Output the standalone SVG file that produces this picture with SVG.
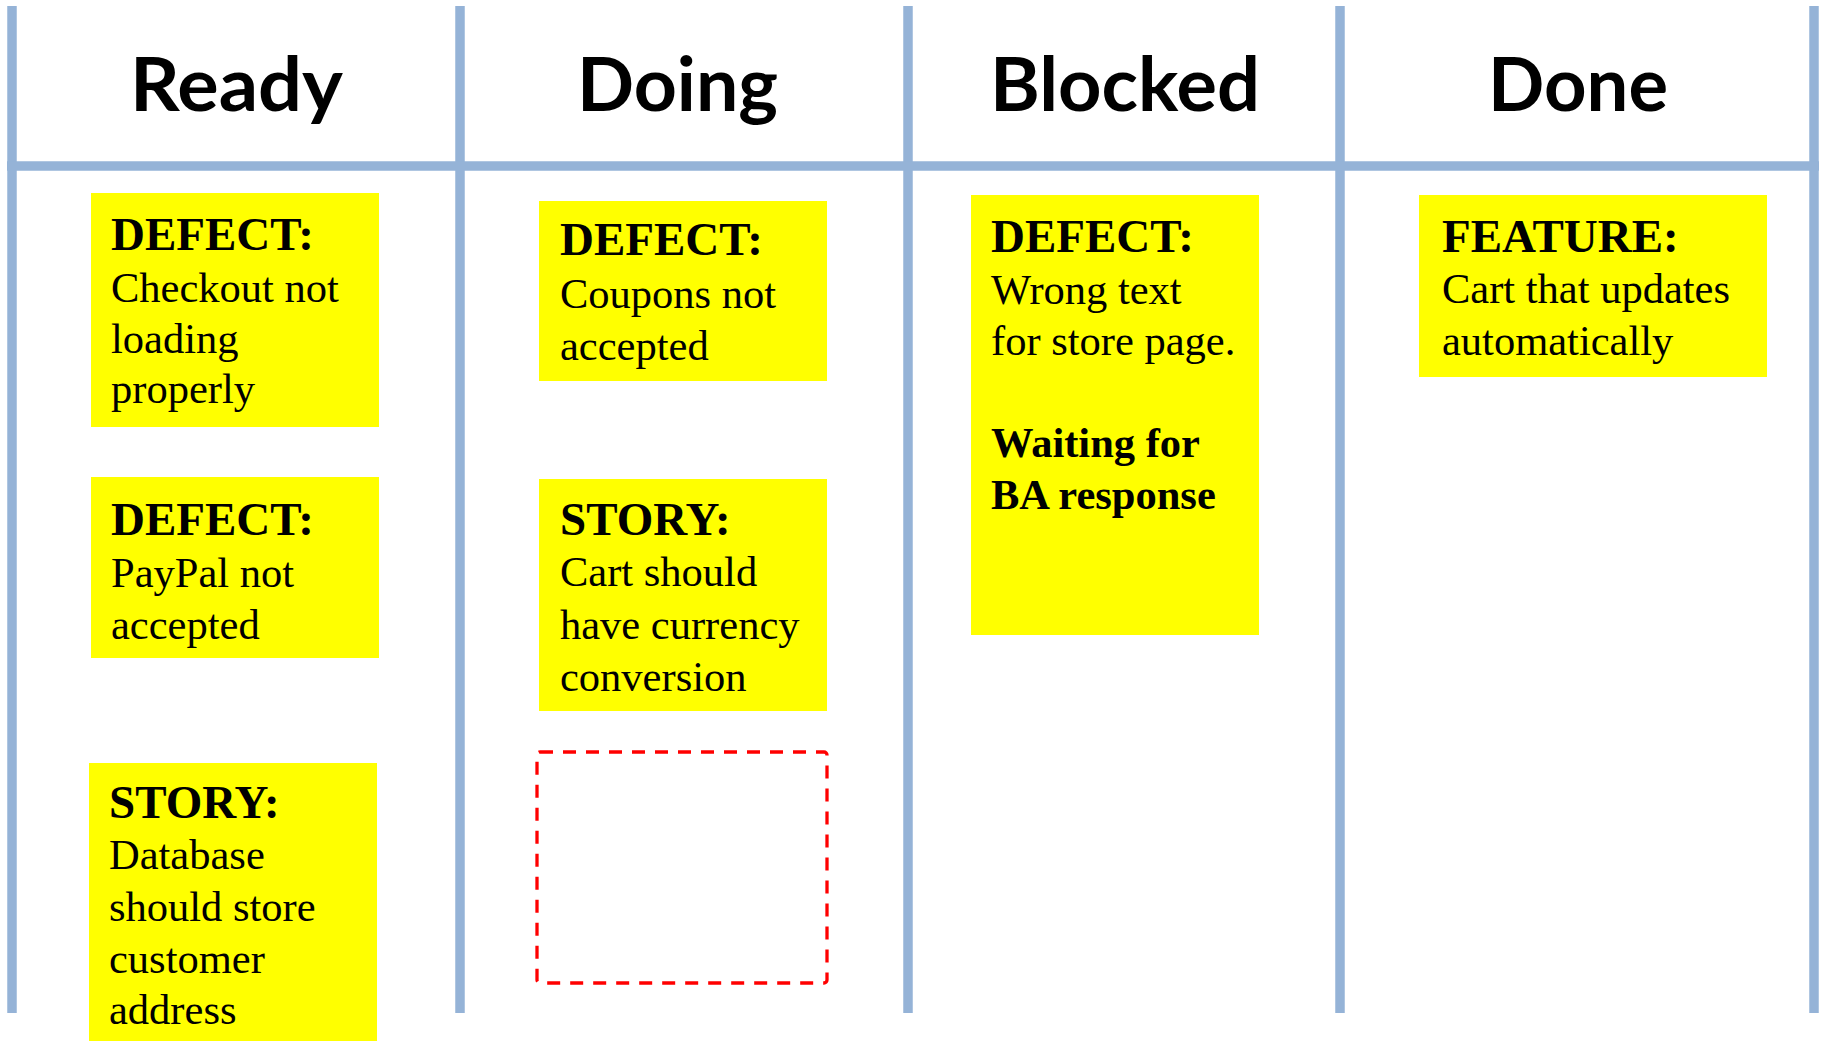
<svg xmlns="http://www.w3.org/2000/svg" width="1823" height="1041" viewBox="0 0 1823 1041">
<style>
.bg{fill:#ffffff}
.grid{stroke:#95B3D7;stroke-width:9.5;fill:none}
.hdr{font-family:Lato,"Open Sans","Liberation Sans",sans-serif;font-weight:700;font-size:74px;fill:#000}
.card{fill:#FFFF00}
.lbl{font-family:"Liberation Serif","Times New Roman",serif;font-weight:700;font-size:47px;fill:#000}
.txt{font-family:"Liberation Serif","Times New Roman",serif;font-size:42.5px;fill:#000}
.txtb{font-family:"Liberation Serif","Times New Roman",serif;font-weight:700;font-size:42.5px;fill:#000}
.slot{fill:none;stroke:#FF0000;stroke-width:3.3;stroke-dasharray:13 10}
</style>
<rect class="bg" x="0" y="0" width="1823" height="1041"/>
<g id="board">
  <line class="grid" x1="12" y1="6" x2="12" y2="1013"/>
  <line class="grid" x1="460" y1="6" x2="460" y2="1013"/>
  <line class="grid" x1="908" y1="6" x2="908" y2="1013"/>
  <line class="grid" x1="1340" y1="6" x2="1340" y2="1013"/>
  <line class="grid" x1="1814" y1="6" x2="1814" y2="1013"/>
  <line class="grid" x1="7" y1="166" x2="1819" y2="166"/>
</g>
<g id="headers">
  <text class="hdr" x="130" y="111" textLength="213" lengthAdjust="spacingAndGlyphs">Ready</text>
  <text class="hdr" x="577" y="111" textLength="201" lengthAdjust="spacingAndGlyphs">Doing</text>
  <text class="hdr" x="990" y="111" textLength="270" lengthAdjust="spacingAndGlyphs">Blocked</text>
  <text class="hdr" x="1488" y="111" textLength="180" lengthAdjust="spacingAndGlyphs">Done</text>
</g>
<g id="card-ready-1">
  <rect class="card" x="91" y="193" width="288" height="234"/>
  <text class="lbl" x="111" y="250">DEFECT:</text>
  <text class="txt" x="111" y="302">Checkout not</text>
  <text class="txt" x="111" y="353">loading</text>
  <text class="txt" x="111" y="403">properly</text>
</g>
<g id="card-ready-2">
  <rect class="card" x="91" y="477" width="288" height="181"/>
  <text class="lbl" x="111" y="535">DEFECT:</text>
  <text class="txt" x="111" y="587">PayPal not</text>
  <text class="txt" x="111" y="639">accepted</text>
</g>
<g id="card-ready-3">
  <rect class="card" x="89" y="763" width="288" height="278"/>
  <text class="lbl" x="109" y="818">STORY:</text>
  <text class="txt" x="109" y="869">Database</text>
  <text class="txt" x="109" y="921">should store</text>
  <text class="txt" x="109" y="973">customer</text>
  <text class="txt" x="109" y="1024">address</text>
</g>
<g id="card-doing-1">
  <rect class="card" x="539" y="201" width="288" height="180"/>
  <text class="lbl" x="560" y="255">DEFECT:</text>
  <text class="txt" x="560" y="308">Coupons not</text>
  <text class="txt" x="560" y="360">accepted</text>
</g>
<g id="card-doing-2">
  <rect class="card" x="539" y="479" width="288" height="232"/>
  <text class="lbl" x="560" y="535">STORY:</text>
  <text class="txt" x="560" y="586">Cart should</text>
  <text class="txt" x="560" y="639">have currency</text>
  <text class="txt" x="560" y="691">conversion</text>
</g>
<g id="slot-doing">
  <rect class="slot" x="537" y="752" width="290" height="231" rx="3"/>
</g>
<g id="card-blocked-1">
  <rect class="card" x="971" y="195" width="288" height="440"/>
  <text class="lbl" x="991" y="252">DEFECT:</text>
  <text class="txt" x="991" y="304">Wrong text</text>
  <text class="txt" x="991" y="355">for store page.</text>
  <text class="txtb" x="991" y="457">Waiting for</text>
  <text class="txtb" x="991" y="509">BA response</text>
</g>
<g id="card-done-1">
  <rect class="card" x="1419" y="195" width="348" height="182"/>
  <text class="lbl" x="1442" y="252">FEATURE:</text>
  <text class="txt" x="1442" y="303">Cart that updates</text>
  <text class="txt" x="1442" y="355">automatically</text>
</g>
<g id="connectors"/>
</svg>
